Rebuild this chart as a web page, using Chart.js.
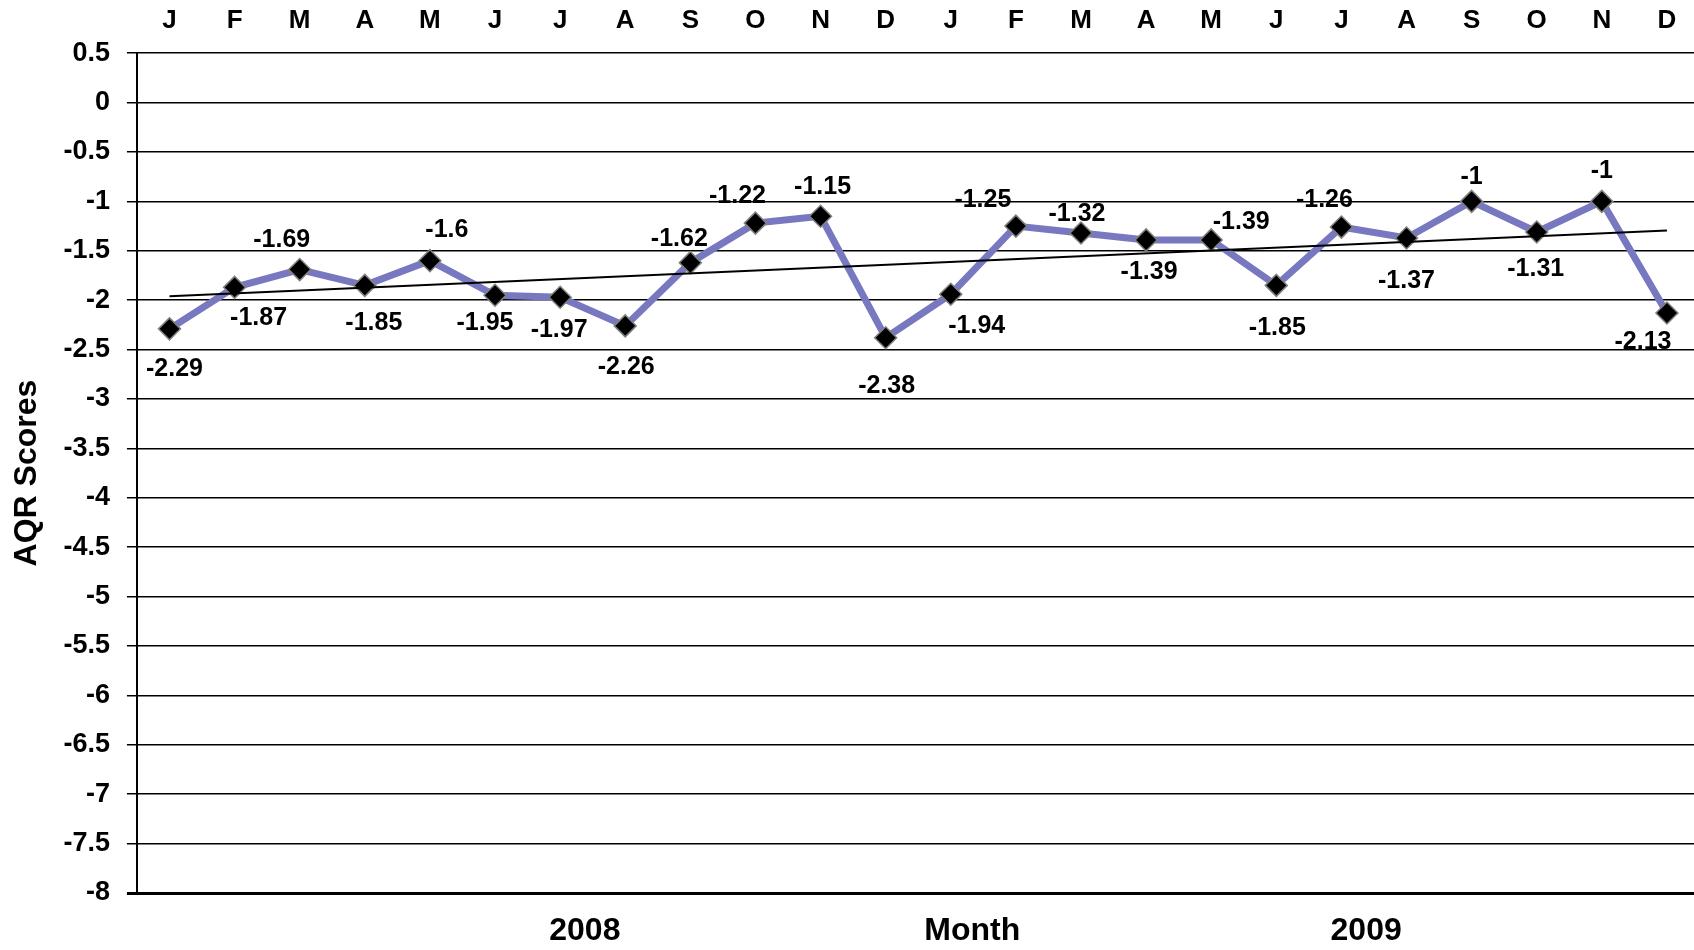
<!DOCTYPE html>
<html lang="en">
<head>
<meta charset="UTF-8">
<title>AQR Scores</title>
<script src="https://cdn.jsdelivr.net/npm/chart.js"></script>
<style>
    html, body { margin: 0; padding: 0; background: #fff; overflow: hidden; }
    .wrap { width: 1712px; height: 950px; position: relative; }
</style>
</head>
<body>
<div class="wrap"><canvas id="chart"></canvas></div>
<script>
    // month initials, Jan 2008 .. Dec 2009
    const months = ['J','F','M','A','M','J','J','A','S','O','N','D',
                    'J','F','M','A','M','J','J','A','S','O','N','D'];
    const scores = [-2.29, -1.87, -1.69, -1.85, -1.6, -1.95, -1.97, -2.26, -1.62, -1.22, -1.15, -2.38,
                    -1.94, -1.25, -1.32, -1.39, -1.39, -1.85, -1.26, -1.37, -1, -1.31, -1, -2.13];
    const yMin = -8, yMax = 0.5, yStep = 0.5;
    const bottomTexts = ['2008', 'Month', '2009'];
    const bottomAt = [6.38, 12.33, 18.38];   // position along the month axis

    // where each value label sits relative to its marker (px)
    const labelDx = [5, 24, -18, 9, 17, -10, -1, 1, -11, -18, 2, 1, 26, -33, -4, 3, 30, 1, -17, 0, 0, -1, 0, -24];
    const labelDy = [40, 31, -29, 38, -31, 28, 33, 41, -24, -27, -29, 48, 32, -26, -19, 32, -18, 43, -27, 43, -24, 37, -30, 29];

    // least squares trend (as Excel's linear trendline)
    const n = scores.length;
    const meanX = (n - 1) / 2;
    const meanY = scores.reduce((a, b) => a + b, 0) / n;
    let sxy = 0, sxx = 0;
    scores.forEach((v, i) => { sxy += (i - meanX) * (v - meanY); sxx += (i - meanX) * (i - meanX); });
    const slope = sxy / sxx;
    const trend = scores.map((_, i) => (i === 0 || i === n - 1) ? meanY + slope * (i - meanX) : null);

    const FONT = "'Liberation Sans', Arial, sans-serif";

    const valueLabels = {
        id: 'valueLabels',
        afterDatasetsDraw(chart) {
            const ctx = chart.ctx;
            const meta = chart.getDatasetMeta(1);
            ctx.save();
            ctx.font = 'bold 25px ' + FONT;
            ctx.fillStyle = '#000';
            ctx.textAlign = 'center';
            ctx.textBaseline = 'middle';
            meta.data.forEach((pt, i) => {
                ctx.fillText(String(scores[i]), pt.x + labelDx[i], pt.y + labelDy[i]);
            });
            ctx.restore();
        }
    };

    const bottomLabels = {
        id: 'bottomLabels',
        afterDraw(chart) {
            const ctx = chart.ctx;
            const xs = chart.scales.x;
            ctx.save();
            ctx.font = 'bold 32px ' + FONT;
            ctx.fillStyle = '#000';
            ctx.textAlign = 'center';
            ctx.textBaseline = 'middle';
            bottomTexts.forEach((t, i) => {
                ctx.fillText(t, xs.getPixelForValue(bottomAt[i]), 931);
            });
            ctx.restore();
        }
    };

    new Chart(document.getElementById('chart'), {
        type: 'line',
        data: {
            labels: months,
            datasets: [
                {
                    label: 'Trend',
                    data: trend,
                    borderColor: '#000',
                    borderWidth: 2,
                    pointRadius: 0,
                    spanGaps: true,
                    order: 0
                },
                {
                    label: 'AQR Scores',
                    data: scores,
                    borderColor: '#7878c0',
                    borderWidth: 7,
                    pointStyle: 'rectRot',
                    pointRadius: 11,
                    pointBackgroundColor: '#000',
                    pointBorderColor: '#808080',
                    pointBorderWidth: 1.5,
                    tension: 0,
                    order: 1
                }
            ]
        },
        options: {
            responsive: true,
            maintainAspectRatio: false,
            animation: false,
            layout: { padding: { top: -11, left: 8, right: 0, bottom: 57 } },
            plugins: {
                legend: { display: false },
                tooltip: { enabled: false }
            },
            scales: {
                x: {
                    position: 'top',
                    offset: true,
                    grid: { display: false, drawTicks: false },
                    border: { display: false },
                    ticks: {
                        color: '#000',
                        padding: 16.5,
                        maxRotation: 0,
                        autoSkip: false,
                        font: { family: FONT, size: 26, weight: 'bold' }
                    }
                },
                y: {
                    min: yMin,
                    max: yMax,
                    grid: {
                        color: '#000',
                        lineWidth: c => (c.tick && c.tick.value === yMin) ? 3 : 1.5,
                        tickLength: 10
                    },
                    border: { display: true, color: '#000', width: 2 },
                    ticks: {
                        stepSize: yStep,
                        color: '#000',
                        padding: 17,
                        font: { family: FONT, size: 27, weight: 'bold' },
                        callback: v => String(v)
                    },
                    title: {
                        display: true,
                        text: 'AQR Scores',
                        color: '#000',
                        padding: { top: 0, bottom: 0 },
                        font: { family: FONT, size: 32, weight: 'bold' }
                    }
                }
            }
        },
        plugins: [valueLabels, bottomLabels]
    });
</script>
</body>
</html>
